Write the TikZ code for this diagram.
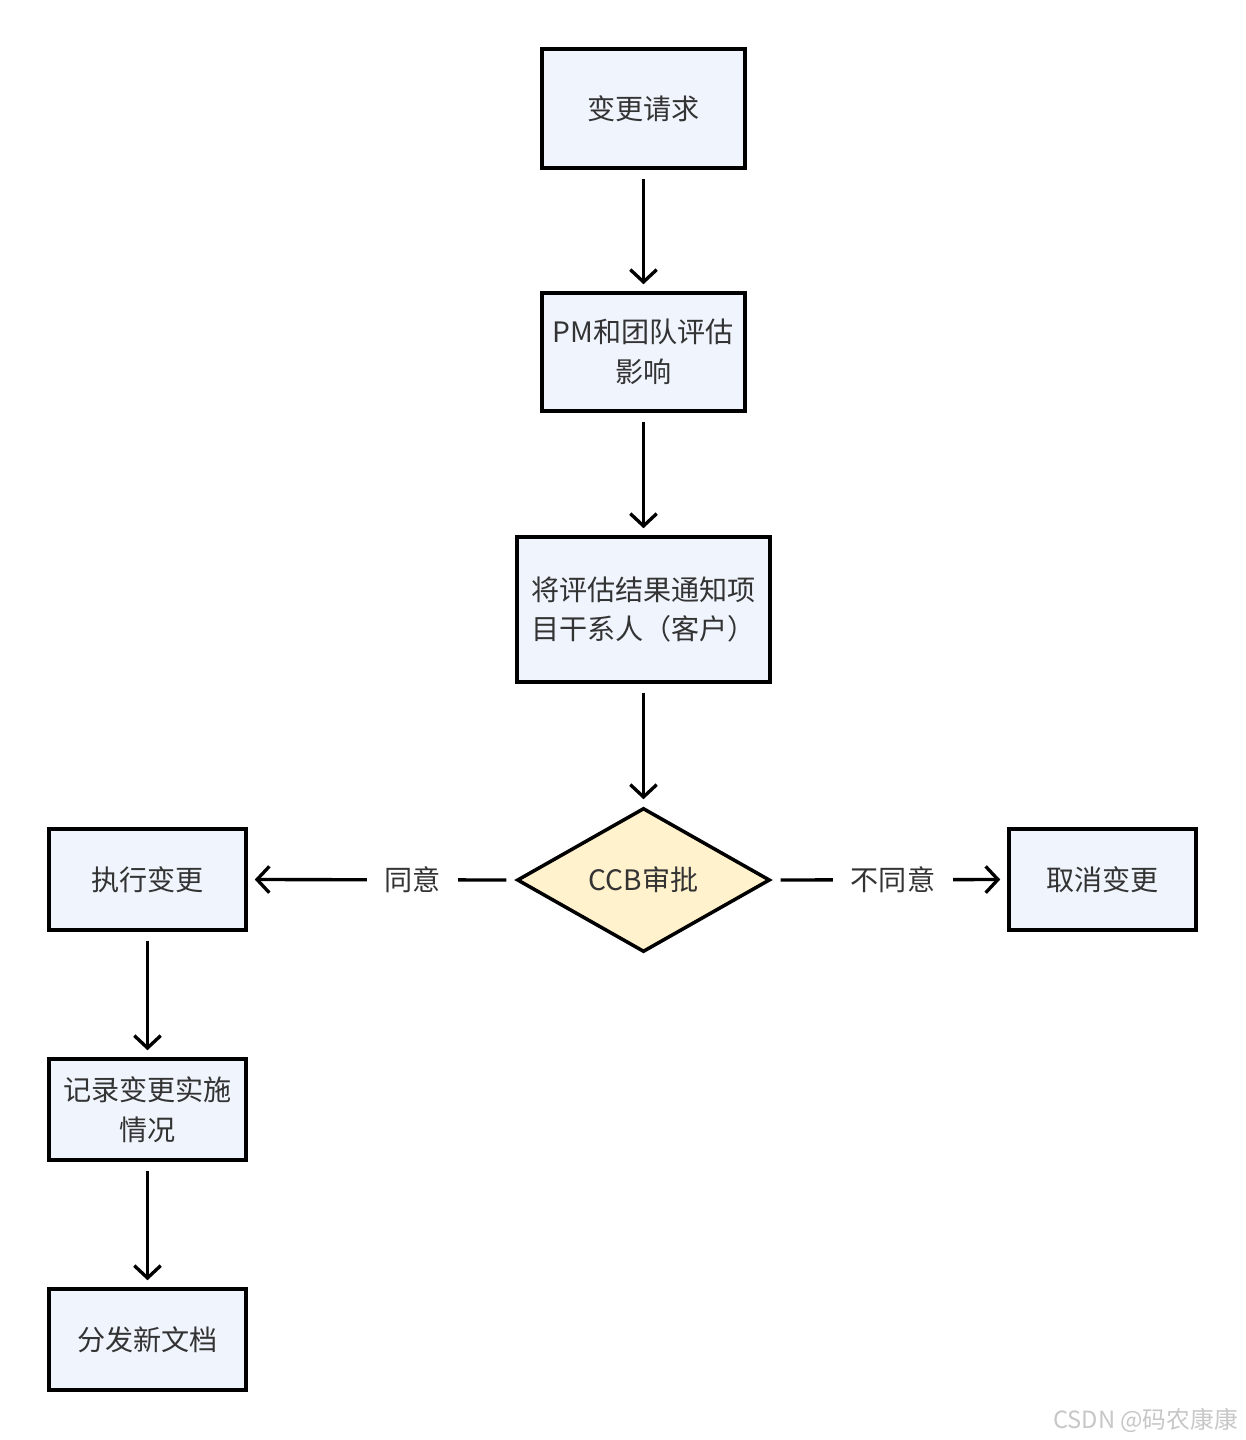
\documentclass[tikz,border=0pt]{standalone}
\usepackage{fontspec}
\newfontfamily\cjk{Noto Sans CJK SC}
\usetikzlibrary{shapes.geometric, arrows.meta}
\definecolor{boxfill}{HTML}{EFF4FD}
\definecolor{decfill}{HTML}{FFF2CC}
\definecolor{txt}{HTML}{333333}
\tikzset{
  box/.style={draw, line width=2pt, fill=boxfill, text=txt, align=center, inner sep=0pt,
    font=\cjk\fontsize{16}{22.7}\selectfont},
  decision/.style={box, diamond, fill=decfill},
  flow/.style={line width=1.9pt, -{Straight Barb[length=7pt,width=15pt]}, shorten <=5pt, shorten >=4pt},
  lbl/.style={fill=white, text=txt, inner xsep=10pt, font=\cjk\fontsize{16}{18}\selectfont}
}
\begin{document}
\begin{tikzpicture}[x=0.02cm,y=-0.02cm]
\useasboundingbox (0,0) rectangle (1246,1440);
\node[box, minimum width=4.06cm, minimum height=2.38cm] (req) at (643.5,108.5) {变更请求};
\node[box, minimum width=4.06cm, minimum height=2.36cm] (eval) at (643.5,352) {PM和团队评估\\影响};
\node[box, minimum width=5.06cm, minimum height=2.9cm] (notify) at (643.5,609.5) {将评估结果通知项\\目干系人（客户）};
\node[decision, minimum width=5.06cm, minimum height=2.88cm] (ccb) at (643.5,880) {CCB审批};
\node[box, minimum width=3.94cm, minimum height=2.02cm] (exec) at (147.5,879.5) {执行变更};
\node[box, minimum width=3.74cm, minimum height=2.02cm] (cancel) at (1102.5,879.5) {取消变更};
\node[box, minimum width=3.94cm, minimum height=2.02cm] (record) at (147.5,1109.5) {记录变更实施\\情况};
\node[box, minimum width=3.94cm, minimum height=2.02cm] (docs) at (147.5,1339.5) {分发新文档};
\draw[flow] (req) -- (eval);
\draw[flow] (eval) -- (notify);
\draw[flow] (notify) -- (ccb);
\draw[flow] (ccb.west) -- node[lbl, pos=0.384] {同意} (exec.east);
\draw[flow] (ccb.east) -- node[lbl, pos=0.515] {不同意} (cancel.west);
\draw[flow] (exec) -- (record);
\draw[flow] (record) -- (docs);
\node[anchor=east, text=black!22, font=\cjk\fontsize{13.5}{15}\selectfont] (mark) at (1244,1420) {CSDN @码农康康};
\end{tikzpicture}
\end{document}
